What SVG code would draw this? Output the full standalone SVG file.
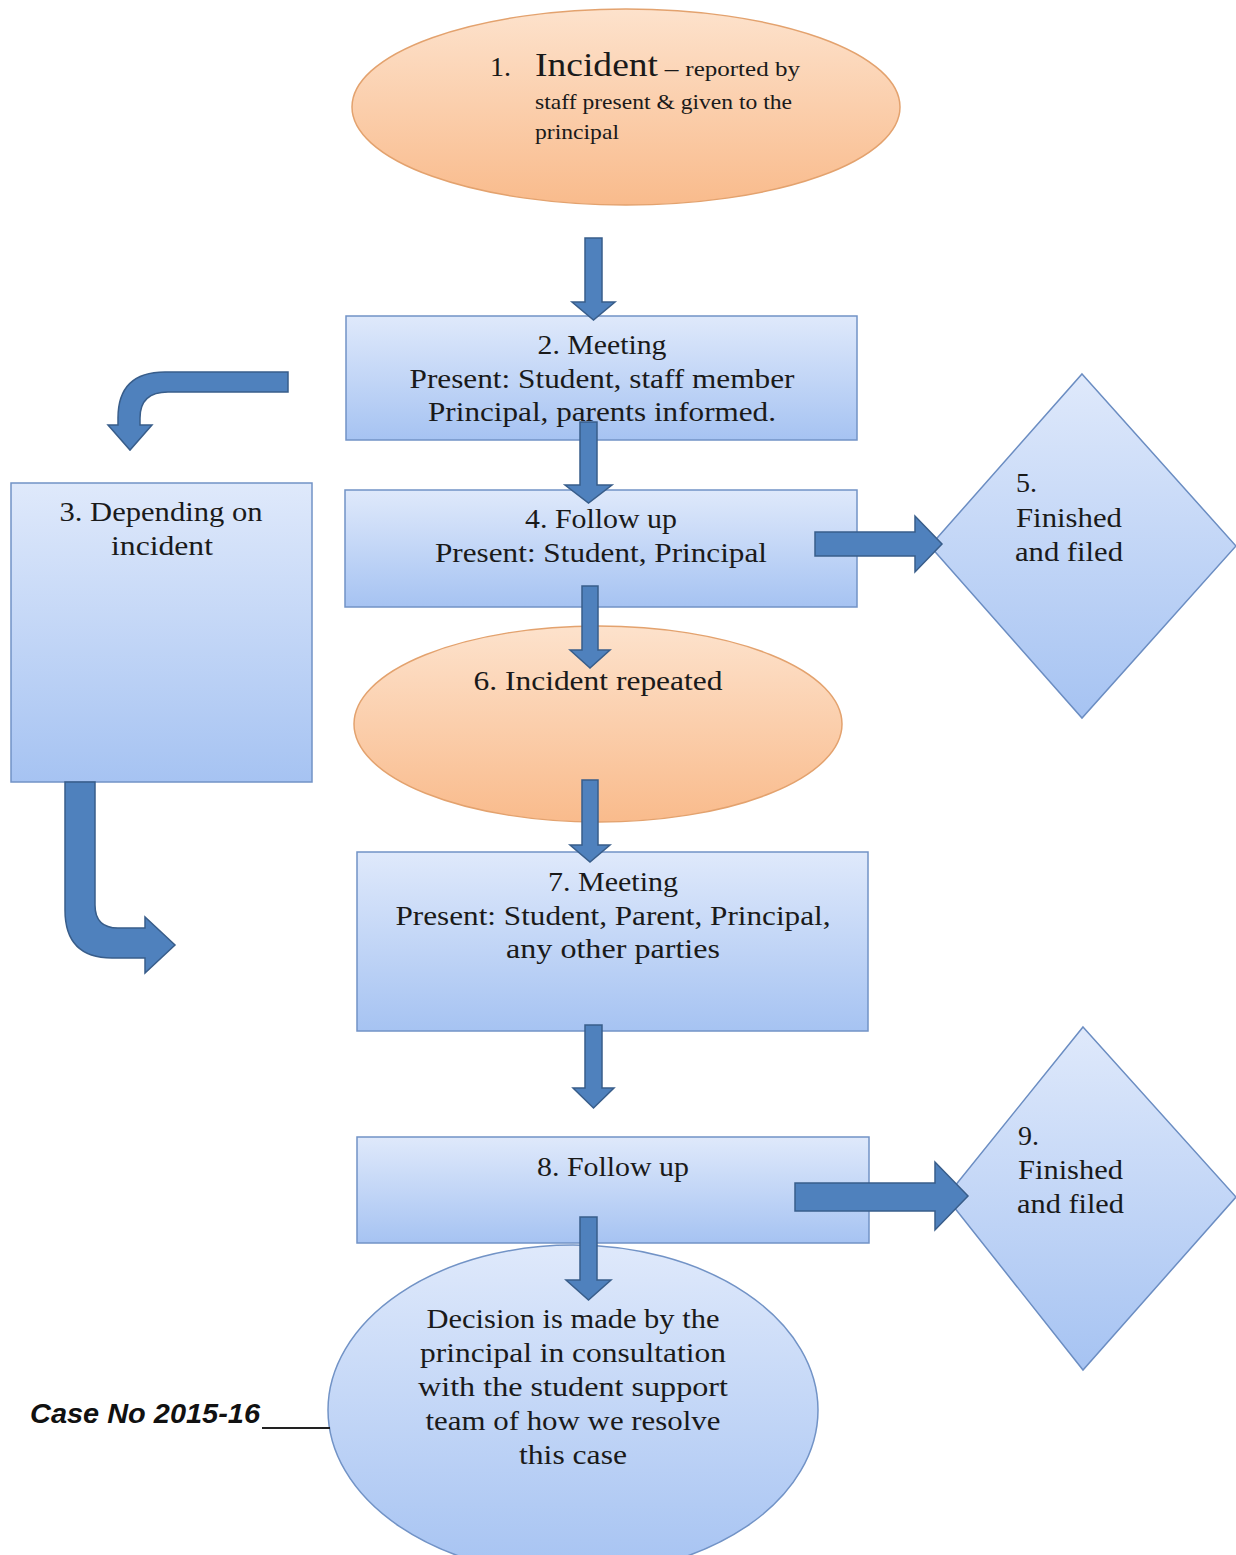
<svg xmlns="http://www.w3.org/2000/svg" width="1236" height="1555" viewBox="0 0 1236 1555">
<defs>
<linearGradient id="gBlue" x1="0" y1="0" x2="0" y2="1">
<stop offset="0" stop-color="#dfe9fb"/>
<stop offset="1" stop-color="#a6c3f2"/>
</linearGradient>
<linearGradient id="gOrange" x1="0" y1="0" x2="0" y2="1">
<stop offset="0" stop-color="#fde2cc"/>
<stop offset="1" stop-color="#f9bb8c"/>
</linearGradient>
</defs>
<style>
.box{fill:url(#gBlue);stroke:#7293c6;stroke-width:1.5}
.dia{fill:url(#gBlue);stroke:#6b8dc2;stroke-width:1.5}
.oval{fill:url(#gOrange);stroke:#e3a26e;stroke-width:1.5}
.arr{fill:#4f81bd;stroke:#385d8a;stroke-width:1.5;stroke-linejoin:miter}
.t{font-family:"Liberation Serif","Times New Roman",serif;font-size:28px;fill:#1a1a1a}
.c{text-anchor:middle}
.s{font-size:22px}
</style>
<rect width="1236" height="1555" fill="#ffffff"/>

<g id="node1">
<ellipse class="oval" cx="626" cy="107" rx="274" ry="98"/>
<text class="t" x="490" y="76" font-size="18">1.</text>
<text class="t" x="535" y="76" textLength="265" lengthAdjust="spacingAndGlyphs"><tspan font-size="33">Incident</tspan><tspan font-size="24"> – </tspan><tspan font-size="22">reported by</tspan></text>
<text class="t s" x="535" y="109" textLength="257" lengthAdjust="spacingAndGlyphs">staff present &amp; given  to the</text>
<text class="t s" x="535" y="139" textLength="84" lengthAdjust="spacingAndGlyphs">principal</text>
</g>

<g id="node2">
<rect class="box" x="346" y="316" width="511" height="124"/>
<text class="t c" x="602" y="354" textLength="129" lengthAdjust="spacingAndGlyphs">2. Meeting</text>
<text class="t c" x="602" y="388" textLength="385" lengthAdjust="spacingAndGlyphs">Present: Student, staff member</text>
<text class="t c" x="602" y="421" textLength="348" lengthAdjust="spacingAndGlyphs">Principal, parents informed.</text>
</g>

<g id="node3">
<rect class="box" x="11" y="483" width="301" height="299"/>
<text class="t c" x="161" y="521" textLength="203" lengthAdjust="spacingAndGlyphs">3. Depending on</text>
<text class="t c" x="162" y="555" textLength="102" lengthAdjust="spacingAndGlyphs">incident</text>
</g>

<g id="node4">
<rect class="box" x="345" y="490" width="512" height="117"/>
<text class="t c" x="601" y="528" textLength="152" lengthAdjust="spacingAndGlyphs">4. Follow up</text>
<text class="t c" x="601" y="562" textLength="332" lengthAdjust="spacingAndGlyphs">Present: Student, Principal</text>
</g>

<g id="node5">
<polygon class="dia" points="1082,374 1236,546 1082,718 930,546"/>
<text class="t" x="1016" y="492">5.</text>
<text class="t" x="1016" y="527" textLength="106" lengthAdjust="spacingAndGlyphs">Finished</text>
<text class="t" x="1015" y="561" textLength="108" lengthAdjust="spacingAndGlyphs">and filed</text>
</g>

<g id="node6">
<ellipse class="oval" cx="598" cy="724" rx="244" ry="98"/>
<text class="t c" x="598" y="690" textLength="249" lengthAdjust="spacingAndGlyphs">6. Incident repeated</text>
</g>

<g id="node7">
<rect class="box" x="357" y="852" width="511" height="179"/>
<text class="t c" x="613" y="891" textLength="130" lengthAdjust="spacingAndGlyphs">7. Meeting</text>
<text class="t c" x="613" y="925" textLength="435" lengthAdjust="spacingAndGlyphs">Present: Student, Parent, Principal,</text>
<text class="t c" x="613" y="958" textLength="214" lengthAdjust="spacingAndGlyphs">any other parties</text>
</g>

<g id="node8">
<rect class="box" x="357" y="1137" width="512" height="106"/>
<text class="t c" x="613" y="1176" textLength="152" lengthAdjust="spacingAndGlyphs">8. Follow up</text>
</g>

<g id="node9">
<polygon class="dia" points="1083,1027 1236,1197 1083,1370 946,1197"/>
<text class="t" x="1018" y="1145">9.</text>
<text class="t" x="1018" y="1179" textLength="105" lengthAdjust="spacingAndGlyphs">Finished</text>
<text class="t" x="1017" y="1213" textLength="107" lengthAdjust="spacingAndGlyphs">and filed</text>
</g>

<g id="node10">
<ellipse class="box" cx="573" cy="1410" rx="245" ry="165"/>
<text class="t c" x="573" y="1328" textLength="293" lengthAdjust="spacingAndGlyphs">Decision is made by the</text>
<text class="t c" x="573" y="1362" textLength="306" lengthAdjust="spacingAndGlyphs">principal in consultation</text>
<text class="t c" x="573" y="1396" textLength="310" lengthAdjust="spacingAndGlyphs">with the student support</text>
<text class="t c" x="573" y="1430" textLength="295" lengthAdjust="spacingAndGlyphs">team of how we resolve</text>
<text class="t c" x="573" y="1464" textLength="108" lengthAdjust="spacingAndGlyphs">this case</text>
</g>

<g id="caseNo">
<text x="30" y="1423" font-family="'Liberation Sans',Arial,sans-serif" font-size="27" font-weight="bold" font-style="italic" fill="#111" textLength="230" lengthAdjust="spacingAndGlyphs">Case No 2015-16</text>
<line x1="262" y1="1428" x2="330" y2="1428" stroke="#222" stroke-width="2"/>
</g>

<g id="connectors">
<path class="arr" d="M585,238 L602,238 L602,302 L615,302 L593.5,320 L572,302 L585,302 Z"/>
<path class="arr" d="M580,422 L597,422 L597,485 L612,485 L588.5,503 L565,485 L580,485 Z"/>
<path class="arr" d="M815,532 L915,532 L915,516 L942,544 L915,572 L915,556 L815,556 Z"/>
<path class="arr" d="M582,586 L598,586 L598,650 L610,650 L590,668 L570,650 L582,650 Z"/>
<path class="arr" d="M582,780 L598,780 L598,845 L610,845 L590,862 L570,845 L582,845 Z"/>
<path class="arr" d="M585,1025 L602,1025 L602,1088 L614,1088 L593.5,1108 L573,1088 L585,1088 Z"/>
<path class="arr" d="M795,1183 L935,1183 L935,1162 L968,1196 L935,1230 L935,1211 L795,1211 Z"/>
<path class="arr" d="M580,1217 L597,1217 L597,1280 L611,1280 L588.5,1300 L566,1280 L580,1280 Z"/>
<path class="arr" d="M288,372 L165,372 Q118,372 118,418 L118,425 L108,425 L130,450 L152,425 L140,425 L140,418 Q140,392 168,392 L288,392 Z"/>
<path class="arr" d="M65,782 L95,782 L95,905 Q95,928 118,928 L145,928 L145,917 L175,945 L145,973 L145,958 L112,958 Q65,958 65,910 Z"/>
</g>
</svg>
